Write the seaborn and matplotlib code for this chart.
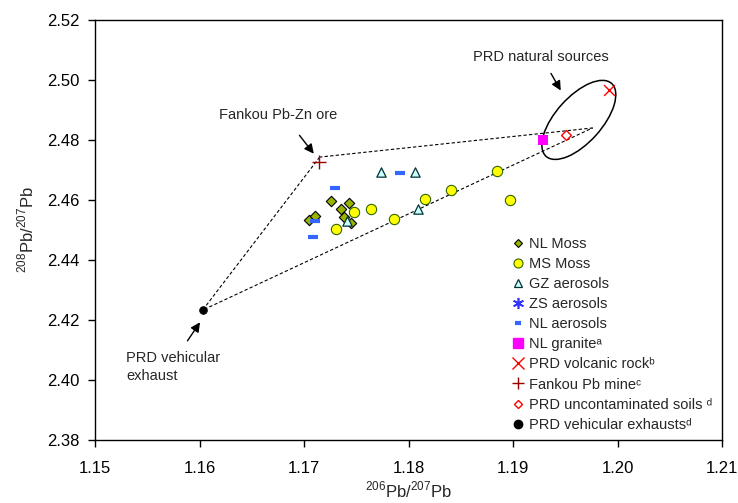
import numpy as np
import seaborn as sns
import matplotlib.pyplot as plt
from matplotlib.patches import Ellipse
from matplotlib.lines import Line2D
from matplotlib.transforms import Affine2D

# Pb isotope ratios (206Pb/207Pb, 208Pb/207Pb)
nl_moss_x = [1.1705, 1.1711, 1.1726, 1.1735, 1.1743, 1.1738, 1.1745]
nl_moss_y = [2.4532, 2.4548, 2.4598, 2.4569, 2.4589, 2.4542, 2.4522]

ms_moss_x = [1.1731, 1.1748, 1.1764, 1.1786, 1.1816, 1.1841, 1.1885, 1.1897]
ms_moss_y = [2.4502, 2.4561, 2.4569, 2.4537, 2.4604, 2.4633, 2.4697, 2.4601]

gz_x = [1.1774, 1.1806, 1.1809, 1.1741]
gz_y = [2.4693, 2.4693, 2.4569, 2.4530]

zs_x = []
zs_y = []

nl_aer_x = [1.1792, 1.1730, 1.1711, 1.1709]
nl_aer_y = [2.4690, 2.4639, 2.4529, 2.4476]

granite_x = [1.1929]
granite_y = [2.4800]

volcanic_x = [1.1992]
volcanic_y = [2.4967]

fankou_x = [1.1714]
fankou_y = [2.4727]

soils_x = [1.1951]
soils_y = [2.4817]

exhaust_x = [1.1603]
exhaust_y = [2.4233]

# mixing triangle corners
tri_x = [1.1715, 1.1603, 1.1976, 1.1715]
tri_y = [2.4743, 2.4233, 2.4840, 2.4743]

labels = ['NL Moss', 'MS Moss', 'GZ aerosols', 'ZS aerosols', 'NL aerosols',
          'NL granite\u1d43', 'PRD volcanic rock\u1d47', 'Fankou Pb mine\u1d9c',
          'PRD uncontaminated soils \u1d48', 'PRD vehicular exhausts\u1d48']

sns.set_style('white')
plt.rcParams['font.family'] = ['Liberation Sans', 'DejaVu Sans']
plt.rcParams['mathtext.fontset'] = 'custom'
plt.rcParams['mathtext.rm'] = 'Liberation Sans'

fig = plt.figure(figsize=(7.38, 5.03), dpi=100)
ax = fig.add_axes([95 / 738, 63 / 503, 627 / 738, 420 / 503])

ax.plot(tri_x, tri_y, color='black', lw=0.8, ls=(0, (3, 2)), zorder=1)

# ellipse drawn in pixel-like units then mapped to data
px_to_data = Affine2D().scale(0.01 / 104.5, 0.02 / 60).translate(1.1963, 2.4867)
ell = Ellipse((0, 0), 98, 46, angle=48, fill=False, ec='black', lw=1.1,
              transform=px_to_data + ax.transData)
ax.add_patch(ell)

sns.scatterplot(x=nl_moss_x, y=nl_moss_y, marker='D', s=28, color='#99b300',
                edgecolor='black', linewidth=0.8, ax=ax, zorder=3)
sns.scatterplot(x=ms_moss_x, y=ms_moss_y, marker='o', s=55, color='#ffff00',
                edgecolor='#336600', linewidth=0.8, ax=ax, zorder=3)
sns.scatterplot(x=gz_x, y=gz_y, marker='^', s=45, color='#ccffff',
                edgecolor='#003333', linewidth=0.9, ax=ax, zorder=3)
sns.scatterplot(x=nl_aer_x, y=nl_aer_y, marker='_', s=45, color='#3366ff',
                linewidth=3, ax=ax, zorder=3)
sns.scatterplot(x=granite_x, y=granite_y, marker='s', s=55, color='#ff00ff',
                edgecolor='#ff00ff', linewidth=0, ax=ax, zorder=3)
sns.scatterplot(x=volcanic_x, y=volcanic_y, marker='x', s=60, color='#ff0000',
                linewidth=1, ax=ax, zorder=3)
sns.scatterplot(x=fankou_x, y=fankou_y, marker='+', s=90, color='#990000',
                linewidth=1, ax=ax, zorder=3)
sns.scatterplot(x=soils_x, y=soils_y, marker='D', s=25, color='white',
                edgecolor='#ff0000', linewidth=1, ax=ax, zorder=3)
sns.scatterplot(x=exhaust_x, y=exhaust_y, marker='o', s=32, color='black',
                edgecolor='black', ax=ax, zorder=3)

handles = [
    Line2D([], [], ls='', marker='D', ms=4.5, mfc='#99b300', mec='black', mew=0.8),
    Line2D([], [], ls='', marker='o', ms=6.5, mfc='#ffff00', mec='#336600', mew=0.8),
    Line2D([], [], ls='', marker='^', ms=6, mfc='#ccffff', mec='#003333', mew=0.9),
    Line2D([], [], ls='', marker=(6, 2, 0), ms=8, color='#3333ff', mew=1.2),
    Line2D([], [], ls='', marker='_', ms=5, color='#3366ff', mew=3),
    Line2D([], [], ls='', marker='s', ms=7, color='#ff00ff'),
    Line2D([], [], ls='', marker='x', ms=8, color='#ff0000', mew=1),
    Line2D([], [], ls='', marker='+', ms=9, color='#990000', mew=1),
    Line2D([], [], ls='', marker='D', ms=4.5, mfc='white', mec='#ff0000', mew=1),
    Line2D([], [], ls='', marker='o', ms=6, color='black'),
]
ax.legend(handles, labels, loc='upper left', bbox_to_anchor=(0.663, 0.484),
          frameon=False, fontsize=10.5, handlelength=1.0, handletextpad=0.25,
          labelspacing=0.42, borderpad=0, borderaxespad=0)

arrow = dict(arrowstyle='-|>', color='black', lw=1, mutation_scale=14)
ax.annotate('', xy=(1.1711, 2.4747), xytext=(1.1694, 2.4823), arrowprops=arrow)
ax.text(1.1675, 2.4883, 'Fankou Pb-Zn ore', ha='center', va='center', fontsize=10.5)
ax.annotate('', xy=(1.1947, 2.4957), xytext=(1.1935, 2.5030), arrowprops=arrow)
ax.text(1.1927, 2.5077, 'PRD natural sources', ha='center', va='center', fontsize=10.5)
ax.annotate('', xy=(1.1602, 2.4200), xytext=(1.1587, 2.4123), arrowprops=arrow)
ax.text(1.1530, 2.4043, 'PRD vehicular\nexhaust', ha='left', va='center',
        fontsize=10.5, linespacing=1.35)

ax.set_xlim(1.15, 1.21)
ax.set_ylim(2.38, 2.52)
ax.set_xticks(np.arange(1.15, 1.2101, 0.01))
ax.set_yticks(np.arange(2.38, 2.5201, 0.02))
ax.xaxis.set_major_formatter(plt.FormatStrFormatter('%.2f'))
ax.yaxis.set_major_formatter(plt.FormatStrFormatter('%.2f'))
ax.tick_params(direction='out', length=5, width=1, labelsize=12, colors='black',
               bottom=True, left=True, pad=6)
ax.tick_params(axis='x', pad=10)
for sp in ax.spines.values():
    sp.set_color('black')
    sp.set_linewidth(1)

ax.set_xlabel('$^{206}$Pb/$^{207}$Pb', fontsize=12, labelpad=3)
ax.set_ylabel('$^{208}$Pb/$^{207}$Pb', fontsize=12, labelpad=8)

fig.savefig('out.png', dpi=100)
